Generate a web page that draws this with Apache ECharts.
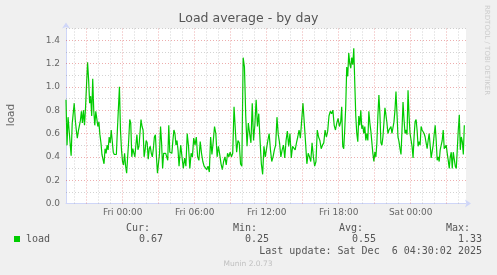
<!DOCTYPE html>
<html>
<head>
<meta charset="utf-8">
<script src="https://cdn.jsdelivr.net/npm/echarts@6/dist/echarts.min.js"></script>
<style>
html,body{margin:0;padding:0;background:#f0f0f0;}
#chart{width:497px;height:275px;}
</style>
</head>
<body>
<div id="chart"></div>
<script>
// ---- Data (hours relative to Fri 00:00) ----
const xMinHour = -4.72;
const xMaxHour = 28.61;

// Thu evening -> Fri early morning
const seg1Start = -4.72, seg1End = 4.70;
const loadSeg1 = [0.89,0.50,0.74,0.63,0.52,0.41,0.68,0.68,0.86,0.72,0.63,0.56,0.62,0.61,0.71,0.79,0.69,0.80,0.67,0.82,
1.02,1.21,1.06,0.86,0.92,0.75,1.07,0.80,0.67,0.79,0.80,0.66,0.70,0.59,0.52,0.42,0.43,0.34,0.47,0.43,
0.50,0.46,0.57,0.52,0.63,0.64,0.44,0.42,0.43,0.42,0.63,0.64,1.00,0.63,0.46,0.36,0.33,0.43,0.32,0.26,
0.26,0.54,0.72,0.69,0.40,0.47,0.46,0.40,0.50,0.59,0.46,0.49,0.50,0.72,0.66,0.63,0.40,0.46,0.54,0.52,
0.38,0.47,0.49,0.43,0.40,0.47,0.57,0.59,0.40,0.26,0.26,0.43,0.66,0.52,0.30,0.43,0.44,0.43,0.42,0.37,
0.67,0.44,0.43,0.43,0.54,0.63,0.60,0.50,0.54,0.46,0.32];

// Fri daytime
const seg2Start = 4.73, seg2End = 18.06;
const loadSeg2 = [0.32,0.50,0.40,0.30,0.39,0.32,0.60,0.49,0.30,0.43,0.40,0.56,0.50,0.57,0.40,0.37,0.53,0.43,0.36,0.32,
0.33,0.29,0.32,0.27,0.57,0.42,0.53,0.66,0.60,0.40,0.49,0.42,0.34,0.29,0.36,0.40,0.33,0.43,0.40,0.44,
0.40,0.43,0.83,0.63,0.44,0.54,0.52,0.34,0.32,1.25,1.17,0.75,0.49,0.69,0.60,0.52,0.86,0.54,0.67,0.89,
0.66,0.77,0.54,0.34,0.25,0.49,0.40,0.47,0.54,0.60,0.46,0.36,0.40,0.46,0.50,0.74,0.59,0.52,0.40,0.46,
0.50,0.39,0.54,0.62,0.49,0.60,0.39,0.49,0.50,0.46,0.52,0.57,0.63,0.56,0.57,0.86,0.69,0.52,0.34,0.43,
0.40,0.36,0.52,0.40,0.32,0.36,0.63,0.57,0.54,0.47,0.50,0.52,0.63,0.57,0.62,0.75,0.79,0.77,0.80,0.67,
0.63,0.69,0.73,0.66];

// Fri evening -> Sat early morning
const seg3Start = 18.17, seg3End = 28.47;
const loadSeg3 = [0.70,0.83,0.49,0.47,0.63,0.83,1.17,1.09,1.29,1.20,1.16,1.25,1.19,1.33,1.03,0.75,0.60,0.53,0.75,0.67,
0.80,0.64,0.67,0.60,0.66,0.54,0.60,0.54,0.79,0.69,0.62,0.63,0.43,0.36,0.44,0.40,0.52,0.75,0.93,0.77,
0.52,0.50,0.57,0.69,0.82,0.76,0.69,0.60,0.63,0.62,0.66,0.60,0.60,0.70,0.80,0.96,0.77,0.57,0.53,0.47,
0.42,0.63,0.87,0.72,0.60,0.63,0.59,0.97,0.75,0.60,0.60,0.49,0.39,0.57,0.70,0.72,0.63,0.49,0.53,0.50,
0.66,0.63,0.62,0.60,0.57,0.52,0.47,0.54,0.60,0.50,0.39,0.40,0.50,0.59,0.67,0.54,0.37,0.40,0.36,0.46,
0.50,0.54,0.63,0.47,0.46,0.50,0.43,0.37,0.30,0.40,0.44,0.30,0.44,0.43,0.32,0.30,0.30,0.63,0.76,0.46,
0.57,0.53,0.42,0.67];

const xLabelHours = [0, 6, 12, 18, 24];
const xLabelTexts = ['Fri 00:00', 'Fri 06:00', 'Fri 12:00', 'Fri 18:00', 'Sat 00:00'];
const xGridHours = [-4,-3,-2,-1,0,1,2,3,4,5,6,7,8,9,10,11,12,13,14,15,16,17,18,19,20,21,22,23,24,25,26,27,28];
const yTickValues = [0, 0.2, 0.4, 0.6, 0.8, 1.0, 1.2, 1.4];
const yGridValues = [0.1,0.2,0.3,0.4,0.5,0.6,0.7,0.8,0.9,1.0,1.1,1.2,1.3,1.4,1.5];

const legendName = 'load';
const statLabels = ['Cur:', 'Min:', 'Avg:', 'Max:'];
const statValues = ['0.67', '0.25', '0.55', '1.33'];
const lastUpdate = 'Last update: Sat Dec  6 04:30:02 2025';

// ---- Build series data ----
function segData(start, end, vals) {
  const n = vals.length;
  return vals.map((v, i) => [start + (end - start) * i / (n - 1), v]);
}
const lineData = [].concat(
  segData(seg1Start, seg1End, loadSeg1),
  segData(seg2Start, seg2End, loadSeg2),
  segData(seg3Start, seg3End, loadSeg3)
);

const grayGrid = 'rgba(128,128,128,0.35)';
const redGrid = 'rgba(200,0,0,0.32)';
const gridMarks = [];
xGridHours.forEach(h => {
  const major = (((h % 3) + 3) % 3) === 0;
  gridMarks.push({xAxis: h, lineStyle: {color: major ? redGrid : grayGrid, type: [1, 2], width: 1}});
});
yGridValues.forEach(v => {
  const major = Math.abs(v * 5 - Math.round(v * 5)) < 1e-6;
  gridMarks.push({yAxis: v, lineStyle: {color: major ? redGrid : grayGrid, type: [1, 2], width: 1}});
});

const chart = echarts.init(document.getElementById('chart'), null, {renderer: 'canvas'});
const sans = 'DejaVu Sans';
const mono = 'DejaVu Sans Mono';
const fontColor = '#666666';
const axisColor = '#CFD6F8';

const graphics = [
  {type: 'text', left: 'center', top: 12, style: {text: 'Load average - by day', font: '12.5px ' + sans, fill: '#555555'}},
  {type: 'text', x: 11, y: 115, rotation: Math.PI / 2, style: {text: 'load', font: '10.5px ' + sans, fill: fontColor, textAlign: 'center', textVerticalAlign: 'middle'}},
  {type: 'text', x: 487, y: 5, rotation: -Math.PI / 2, style: {text: 'RRDTOOL / TOBI OETIKER', font: '7px ' + sans, fill: '#cccccc', textAlign: 'left', textVerticalAlign: 'middle'}},
  {type: 'rect', shape: {x: 14, y: 236, width: 6, height: 6}, style: {fill: '#00cc00'}},
  {type: 'text', x: 26, y: 239.5, style: {text: legendName, font: '10px ' + mono, fill: '#555555', textVerticalAlign: 'middle'}}
];
const statLabelRight = [150, 257, 363, 470];
const statValueRight = [163, 269, 376, 482];
statLabels.forEach((s, i) => {
  graphics.push({type: 'text', x: statLabelRight[i], y: 228.5, style: {text: s, font: '10px ' + mono, fill: '#555555', textAlign: 'right', textVerticalAlign: 'middle'}});
  graphics.push({type: 'text', x: statValueRight[i], y: 239.5, style: {text: statValues[i], font: '10px ' + mono, fill: '#555555', textAlign: 'right', textVerticalAlign: 'middle'}});
});
graphics.push({type: 'text', x: 482, y: 251, style: {text: lastUpdate, font: '10px ' + mono, fill: '#555555', textAlign: 'right', textVerticalAlign: 'middle'}});
graphics.push({type: 'text', x: 248, y: 264.5, style: {text: 'Munin 2.0.73', font: '7.5px ' + sans, fill: '#c0c0c0', textAlign: 'center', textVerticalAlign: 'middle'}});

chart.setOption({
  animation: false,
  backgroundColor: '#f0f0f0',
  grid: {left: 66, top: 28.5, width: 400, height: 175, show: true, backgroundColor: '#ffffff', borderWidth: 0},
  xAxis: {
    type: 'value', min: xMinHour, max: xMaxHour,
    axisLine: {show: true, onZero: false, lineStyle: {color: axisColor, width: 1}, symbol: ['none', 'arrow'], symbolSize: [6, 6], symbolOffset: [0, 5]},
    axisTick: {show: false},
    splitLine: {show: false},
    axisLabel: {
      customValues: xLabelHours, margin: 5, color: fontColor, fontFamily: sans, fontSize: 9,
      formatter: v => { const i = xLabelHours.indexOf(Math.round(v)); return (i >= 0 && Math.abs(v - Math.round(v)) < 1e-6) ? xLabelTexts[i] : ''; }
    }
  },
  yAxis: {
    type: 'value', min: 0, max: 1.5, interval: 0.2,
    axisLine: {show: true, onZero: false, lineStyle: {color: axisColor, width: 1}, symbol: ['none', 'arrow'], symbolSize: [6, 6], symbolOffset: [0, 6]},
    axisTick: {show: false},
    splitLine: {show: false},
    axisLabel: {
      customValues: yTickValues, margin: 6, color: fontColor, fontFamily: sans, fontSize: 9,
      formatter: v => (v > 1.45 ? '' : v.toFixed(1))
    }
  },
  series: [
    {
      type: 'line', data: [], z: 1, silent: true,
      markLine: {silent: true, symbol: ['none', 'none'], label: {show: false}, animation: false, data: gridMarks}
    },
    {
      name: legendName, type: 'line', data: lineData, z: 3, showSymbol: false, symbol: 'none',
      lineStyle: {color: '#00cc00', width: 1.2}, silent: true
    }
  ],
  graphic: graphics
});
</script>
</body>
</html>
